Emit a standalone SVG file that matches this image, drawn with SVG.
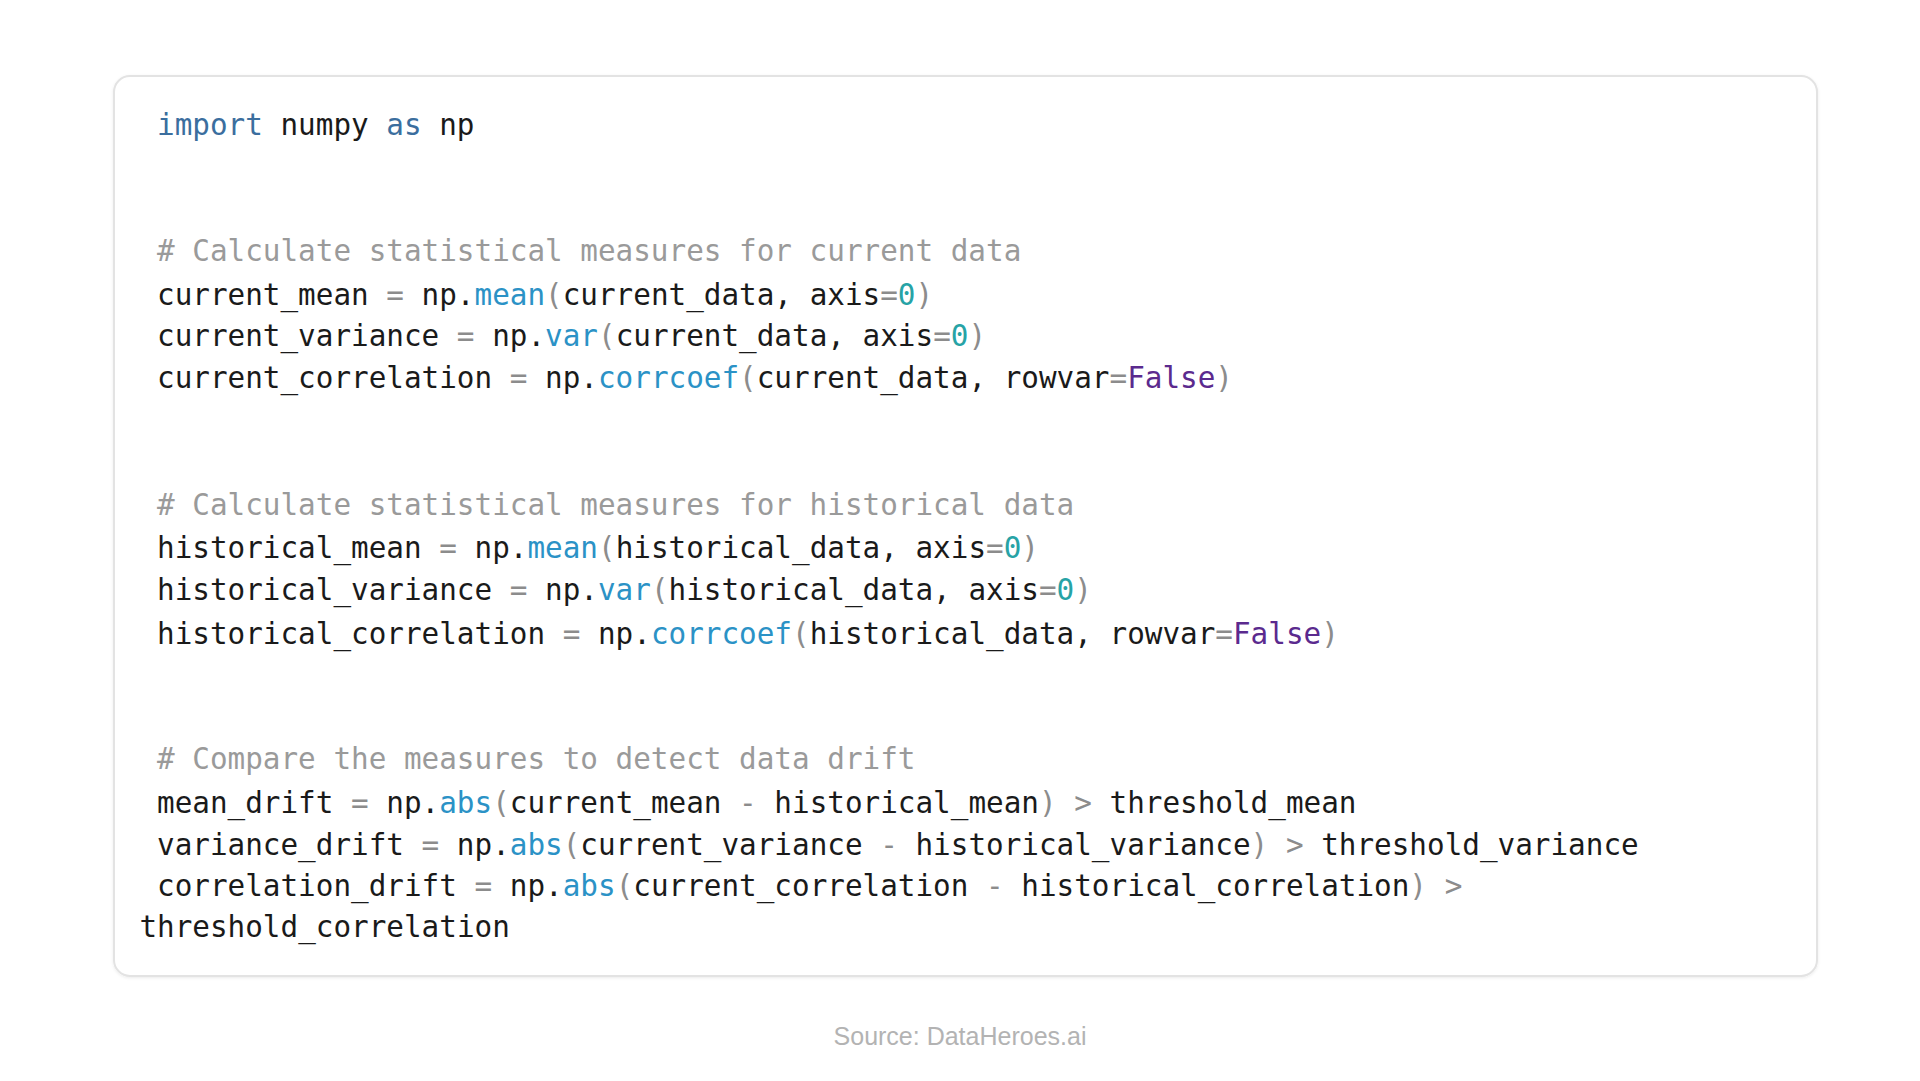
<svg xmlns="http://www.w3.org/2000/svg" width="1920" height="1081" viewBox="0 0 1920 1081">
<style>
.code{font-family:"DejaVu Sans Mono","Liberation Mono",monospace;font-size:29.3px;fill:#1a1a1a;white-space:pre}
.k{fill:#3b6e9e}
.f{fill:#2b92c6}
.n{fill:#27a3a6}
.b{fill:#5b2a8e}
.p{fill:#8c8c8c}
.c{fill:#9a9a9a}
.src{font-family:"Liberation Sans",Arial,sans-serif;font-size:25px;fill:#b3b3b3}
</style>
<defs>
<filter id="sh" x="-5%" y="-5%" width="110%" height="110%">
<feDropShadow dx="0" dy="1" stdDeviation="1.5" flood-color="#000" flood-opacity="0.08"/>
</filter>
</defs>
<rect width="1920" height="1081" fill="#ffffff"/>
<g id="code-box">
<rect x="114" y="76" width="1703" height="900" rx="16" ry="16" fill="#ffffff" stroke="#e3e3e3" stroke-width="2" filter="url(#sh)"/>
</g>
<g id="code" class="code" xml:space="preserve">
<text x="157" y="135"><tspan class="k">import</tspan> numpy <tspan class="k">as</tspan> np</text>
<text x="157" y="261" class="c"># Calculate statistical measures for current data</text>
<text x="157" y="304.5">current_mean <tspan class="p">=</tspan> np.<tspan class="f">mean</tspan><tspan class="p">(</tspan>current_data, axis<tspan class="p">=</tspan><tspan class="n">0</tspan><tspan class="p">)</tspan></text>
<text x="157" y="346.3">current_variance <tspan class="p">=</tspan> np.<tspan class="f">var</tspan><tspan class="p">(</tspan>current_data, axis<tspan class="p">=</tspan><tspan class="n">0</tspan><tspan class="p">)</tspan></text>
<text x="157" y="388">current_correlation <tspan class="p">=</tspan> np.<tspan class="f">corrcoef</tspan><tspan class="p">(</tspan>current_data, rowvar<tspan class="p">=</tspan><tspan class="b">False</tspan><tspan class="p">)</tspan></text>
<text x="157" y="515" class="c"># Calculate statistical measures for historical data</text>
<text x="157" y="558">historical_mean <tspan class="p">=</tspan> np.<tspan class="f">mean</tspan><tspan class="p">(</tspan>historical_data, axis<tspan class="p">=</tspan><tspan class="n">0</tspan><tspan class="p">)</tspan></text>
<text x="157" y="600">historical_variance <tspan class="p">=</tspan> np.<tspan class="f">var</tspan><tspan class="p">(</tspan>historical_data, axis<tspan class="p">=</tspan><tspan class="n">0</tspan><tspan class="p">)</tspan></text>
<text x="157" y="643.8">historical_correlation <tspan class="p">=</tspan> np.<tspan class="f">corrcoef</tspan><tspan class="p">(</tspan>historical_data, rowvar<tspan class="p">=</tspan><tspan class="b">False</tspan><tspan class="p">)</tspan></text>
<text x="157" y="769.2" class="c"># Compare the measures to detect data drift</text>
<text x="157" y="812.6">mean_drift <tspan class="p">=</tspan> np.<tspan class="f">abs</tspan><tspan class="p">(</tspan>current_mean <tspan class="p">-</tspan> historical_mean<tspan class="p">)</tspan> <tspan class="p">&gt;</tspan> threshold_mean</text>
<text x="157" y="854.6">variance_drift <tspan class="p">=</tspan> np.<tspan class="f">abs</tspan><tspan class="p">(</tspan>current_variance <tspan class="p">-</tspan> historical_variance<tspan class="p">)</tspan> <tspan class="p">&gt;</tspan> threshold_variance</text>
<text x="157" y="896">correlation_drift <tspan class="p">=</tspan> np.<tspan class="f">abs</tspan><tspan class="p">(</tspan>current_correlation <tspan class="p">-</tspan> historical_correlation<tspan class="p">)</tspan> <tspan class="p">&gt;</tspan></text>
<text x="139.4" y="937.2">threshold_correlation</text>
</g>
<g id="source">
<text x="960" y="1045" text-anchor="middle" class="src">Source: DataHeroes.ai</text>
</g>
</svg>
